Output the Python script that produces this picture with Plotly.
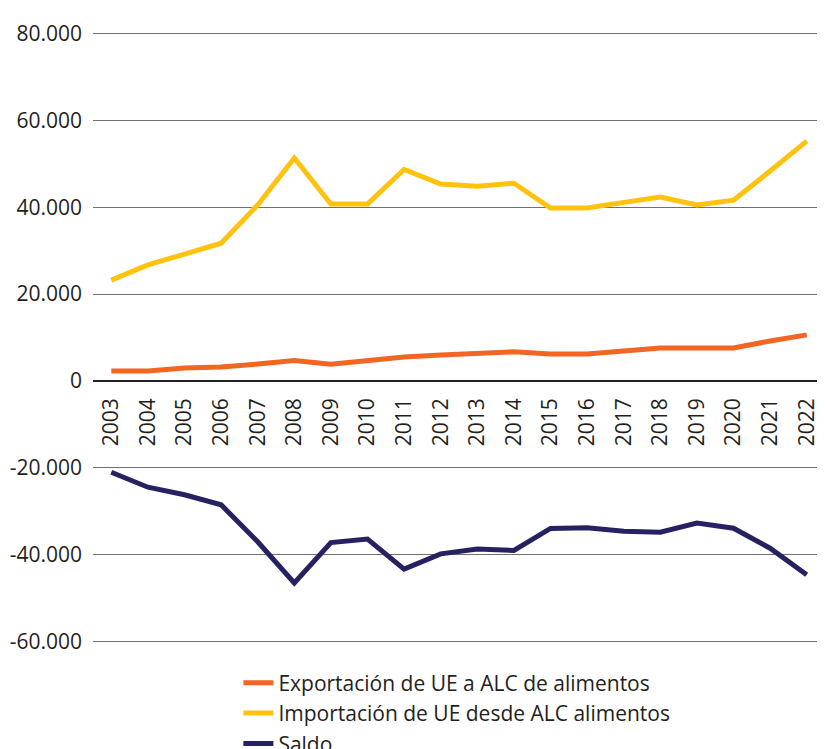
import plotly.graph_objects as go

years = [str(y) for y in range(2003, 2023)]
exportacion = [2300, 2300, 3000, 3200, 3900, 4700, 3850, 4800, 5500, 6000,
               6400, 6700, 6200, 6200, 6900, 7600, 7600, 7600, 9200, 10600]
importacion = [23200, 26700, 29200, 31700, 40500, 51300, 40700, 40700, 48700, 45300,
               44800, 45500, 39800, 39800, 41100, 42300, 40500, 41600, 48300, 55200]
saldo = [-21000, -24450, -26200, -28500, -37000, -46500, -37200, -36400, -43300, -39800,
         -38700, -39000, -33950, -33800, -34600, -34800, -32700, -33900, -38500, -44600]

y_tickvals = [80000, 60000, 40000, 20000, 0, -20000, -40000, -60000]
y_ticktext = ["80.000", "60.000", "40.000", "20.000", "0", "-20.000", "-40.000", "-60.000"]

names = ["Exportación de UE a ALC de alimentos",
         "Importación de UE desde ALC alimentos",
         "Saldo"]
colors = ["#F26522", "#FFC20E", "#262262"]

fig = go.Figure()
for name, vals, col in zip(names, [exportacion, importacion, saldo], colors):
    fig.add_trace(go.Scatter(x=years, y=vals, name=name, mode="lines",
                             line=dict(color=col, width=5)))

y_min, y_max = -61000, 81000
txt = "#231F20"
fig.update_layout(
    width=817, height=741,
    margin=dict(l=85, r=0, t=20.6, b=102.6, pad=0, autoexpand=False),
    paper_bgcolor="white", plot_bgcolor="white",
    font=dict(family="Open Sans", size=21, color=txt),
    showlegend=True,
    legend=dict(orientation="v", x=0.1986, xanchor="left", y=-0.027, yanchor="top",
                font=dict(size=21, color=txt), bgcolor="rgba(0,0,0,0)",
                tracegroupgap=0, itemwidth=30),
    xaxis=dict(type="category", range=[-0.5, 19.5], showgrid=False, showline=False,
               zeroline=False, ticks="", tickangle=-90, anchor="free",
               position=(0 - y_min) / (y_max - y_min), ticklabelstandoff=12,
               tickfont=dict(size=21, color=txt)),
    yaxis=dict(range=[y_min, y_max], tickvals=y_tickvals, ticktext=y_ticktext,
               showgrid=True, gridcolor="#707070", gridwidth=1,
               zeroline=True, zerolinecolor="#231F20", zerolinewidth=2,
               showline=False, ticks="", ticklabelstandoff=10,
               tickfont=dict(size=21, color=txt)),
)

fig.write_html("out.html")
